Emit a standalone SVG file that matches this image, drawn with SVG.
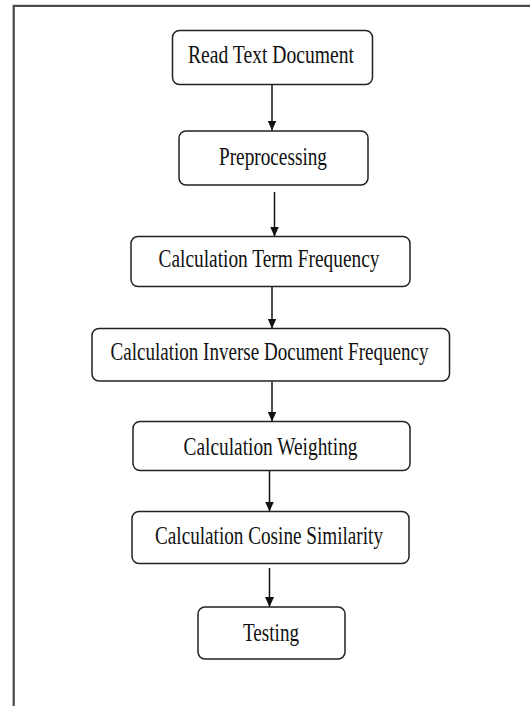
<svg xmlns="http://www.w3.org/2000/svg" width="530" height="706" viewBox="0 0 530 706">
<defs>
<style>
.frame{fill:none;stroke:#4a4a4a;stroke-width:2.2}
.box{fill:#fff;stroke:#222;stroke-width:1.5}
.lbl{font-family:'Liberation Serif','Times New Roman',serif;font-size:25px;fill:#111;text-anchor:middle}
.conn{stroke:#111;stroke-width:1.5;fill:none;marker-end:url(#ah)}
</style>
<marker id="ah" markerUnits="userSpaceOnUse" markerWidth="10" markerHeight="9" refX="10" refY="4.5" orient="auto">
<path d="M0,0 L10,4.5 L0,9 z" fill="#111"/>
</marker>
</defs>
<rect width="530" height="706" fill="#fff"/>
<g id="frame">
<path class="frame" d="M13.7,706 V5.8 H530"/>
</g>
<g id="connectors">
<line class="conn" x1="272" y1="85" x2="272" y2="130.5"/>
<line class="conn" x1="274.5" y1="192" x2="274.5" y2="236.5"/>
<line class="conn" x1="272" y1="287" x2="272" y2="328.5"/>
<line class="conn" x1="272" y1="381.5" x2="272" y2="421.5"/>
<line class="conn" x1="269.5" y1="471" x2="269.5" y2="511.5"/>
<line class="conn" x1="269.5" y1="568" x2="269.5" y2="607"/>
</g>
<g id="n1">
<rect class="box" x="172.5" y="30.5" width="200" height="54" rx="7"/>
<text class="lbl" x="271" y="63" textLength="166" lengthAdjust="spacingAndGlyphs">Read Text Document</text>
</g>
<g id="n2">
<rect class="box" x="179" y="131" width="189" height="54" rx="7"/>
<text class="lbl" x="273" y="165" textLength="108" lengthAdjust="spacingAndGlyphs">Preprocessing</text>
</g>
<g id="n3">
<rect class="box" x="131" y="236.5" width="279" height="50" rx="7"/>
<text class="lbl" x="269" y="267" textLength="221" lengthAdjust="spacingAndGlyphs">Calculation Term Frequency</text>
</g>
<g id="n4">
<rect class="box" x="92" y="328.5" width="357.5" height="52.5" rx="7"/>
<text class="lbl" x="269.5" y="360" textLength="318" lengthAdjust="spacingAndGlyphs">Calculation Inverse Document Frequency</text>
</g>
<g id="n5">
<rect class="box" x="133" y="421.5" width="277" height="49" rx="7"/>
<text class="lbl" x="270.5" y="455" textLength="174" lengthAdjust="spacingAndGlyphs">Calculation Weighting</text>
</g>
<g id="n6">
<rect class="box" x="132" y="511.5" width="277" height="52" rx="7"/>
<text class="lbl" x="269" y="544" textLength="228" lengthAdjust="spacingAndGlyphs">Calculation Cosine Similarity</text>
</g>
<g id="n7">
<rect class="box" x="198" y="607" width="147" height="52" rx="7"/>
<text class="lbl" x="271" y="641" textLength="56" lengthAdjust="spacingAndGlyphs">Testing</text>
</g>
</svg>
